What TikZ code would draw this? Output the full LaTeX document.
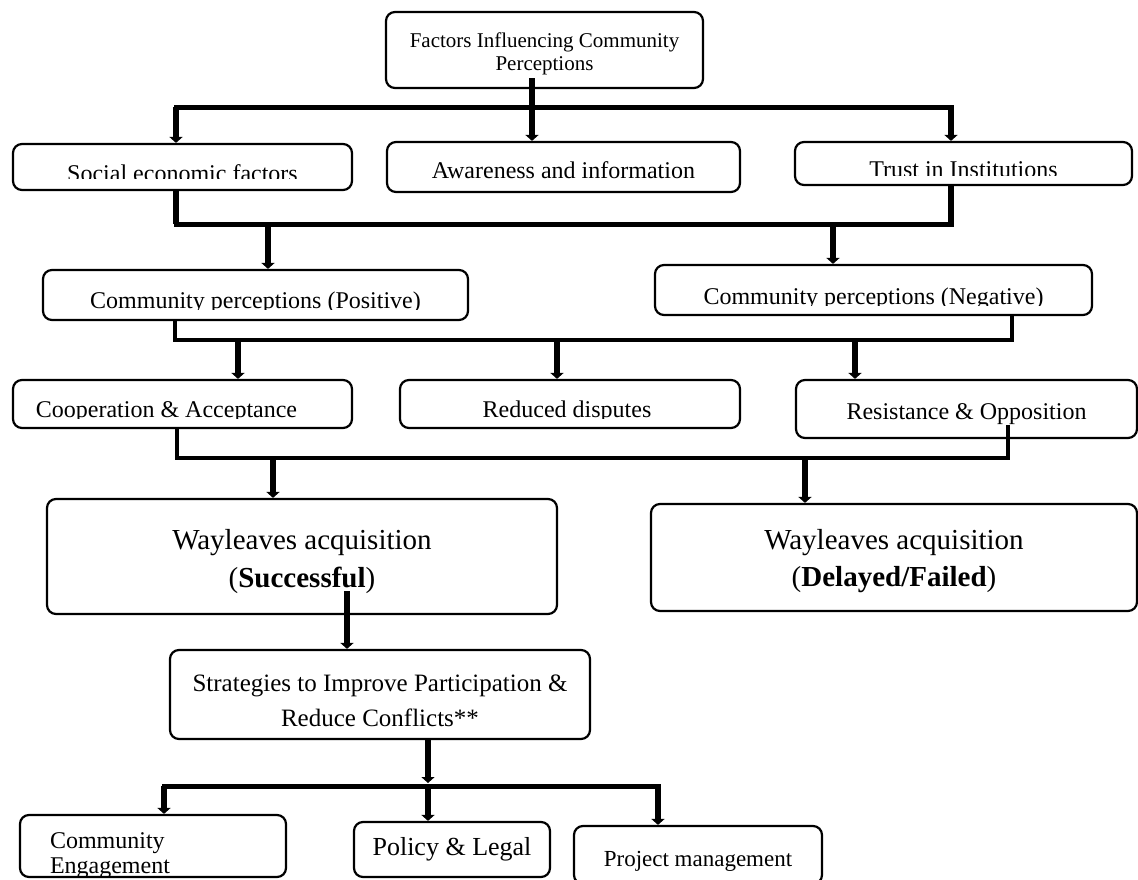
\documentclass[tikz,border=0pt]{standalone}
\usepackage{fontspec}
\setmainfont{Liberation Serif}
\usetikzlibrary{arrows.meta,positioning}

\begin{document}
\begin{tikzpicture}[
  x=1pt,y=-1pt,
  font=\fontsize{24}{28}\selectfont,
  box/.style={rectangle,rounded corners=9pt,draw,line width=2.2pt,align=center,inner sep=2pt},
  thk/.style={line width=6pt},
  link/.style={line width=5pt,line cap=rect},
  thin/.style={line width=3.5pt,line cap=rect},
  cut/.style n args={4}{path picture={
    \clip (path picture bounding box.north west) rectangle ([yshift=#3]path picture bounding box.east);
    \node[anchor=base,inner sep=0pt] at ([xshift=#1,yshift=#2]path picture bounding box.center) {#4};}},
  >={Triangle[width=13pt,length=6pt]}
]
\useasboundingbox (0,0) rectangle (1138,879);
\node[box,minimum width=317,minimum height=76,font=\fontsize{21}{23}\selectfont] (fac) at (544.5,50) {\rule{0pt}{22pt}Factors Influencing Community\\Perceptions};
\node[box,minimum width=339,minimum height=46,cut={0pt}{-14pt}{-11.5pt}{Social economic factors}] (soc) at (182.5,167) {};
\node[box,minimum width=353,minimum height=50] (aw) at (563.5,167) {\rule{0pt}{22.5pt}Awareness and information};
\node[box,minimum width=337,minimum height=43,cut={0pt}{-14pt}{-11.5pt}{Trust in Institutions}] (tru) at (963.5,163.5) {};
\node[box,minimum width=425,minimum height=50,cut={0pt}{-13pt}{-14pt}{Community perceptions (Positive)}] (pos) at (255.5,295) {};
\node[box,minimum width=437,minimum height=50,cut={0pt}{-14pt}{-15pt}{Community perceptions (Negative)}] (neg) at (873.5,290) {};
\node[box,minimum width=339,minimum height=48,cut={-16pt}{-13pt}{-14pt}{Cooperation \& Acceptance}] (coop) at (182.5,404) {};
\node[box,minimum width=340,minimum height=48,cut={-3pt}{-13pt}{-14pt}{Reduced disputes}] (red) at (570,404) {};
\node[box,minimum width=341,minimum height=58] (res) at (966.5,409) {\rule{0pt}{26pt}Resistance \& Opposition};
\node[box,minimum width=510,minimum height=115,font=\fontsize{29}{38}\selectfont] (ws) at (302,556.5) {\rule{0pt}{30pt}Wayleaves acquisition\\(\textbf{Successful})};
\node[box,minimum width=486,minimum height=107,font=\fontsize{29}{37}\selectfont] (wf) at (894,557.5) {\rule{0pt}{28pt}Wayleaves acquisition\\(\textbf{Delayed/Failed})};
\node[box,minimum width=420,minimum height=89,font=\fontsize{25}{35}\selectfont] (strat) at (380,694.5) {\rule{0pt}{29pt}Strategies to Improve Participation \&\\Reduce Conflicts**};
\node[box,minimum width=266,minimum height=62,cut={-43pt}{-27pt}{-29.5pt}{\begin{tabular}[b]{@{}l@{}}Community\\[-3pt]Engagement\end{tabular}}] (ce) at (153,846) {};
\node[box,minimum width=196,minimum height=55,font=\fontsize{26}{30}\selectfont] (pol) at (452,849.5) {Policy \& Legal};
\node[box,minimum width=248,minimum height=58,font=\fontsize{23}{27}\selectfont] (proj) at (698,855) {\rule{0pt}{27pt}Project management};

\coordinate (f0) at ([shift={(-12.5,-11)}]fac.south);
\coordinate (b1l) at (176,107);
\coordinate (b1r) at (951,107);
\draw[link] (b1l) -- (b1r);
\draw[->,thk] (f0) -- (f0 |- aw.north);
\draw[->,thk] (b1l) -- (b1l |- soc.north);
\draw[->,thk] (b1r) -- (b1r |- tru.north);

\coordinate (b2l) at (176,224);
\coordinate (b2r) at (951,224);
\coordinate (d2a) at (268,224);
\coordinate (d2b) at (833,224);
\draw[thk] (soc.south -| b2l) -- (b2l);
\draw[thk] (tru.south -| b2r) -- (b2r);
\draw[link] (b2l) -- (b2r);
\draw[->,thk] (d2a) -- (d2a |- pos.north);
\draw[->,thk] (d2b) -- (d2b |- neg.north);

\coordinate (b3l) at (175,340);
\coordinate (b3r) at (1012,340);
\coordinate (d3a) at (238,340);
\coordinate (d3b) at (557,340);
\coordinate (d3c) at (855,340);
\draw[thin] (pos.south -| b3l) -- (b3l) -- (b3r) -- (neg.south -| b3r);
\draw[->,thk] (d3a) -- (d3a |- coop.north);
\draw[->,thk] (d3b) -- (d3b |- red.north);
\draw[->,thk] (d3c) -- (d3c |- res.north);

\coordinate (r0) at ([shift={(41.5,-12)}]res.south);
\coordinate (b4l) at (177,458);
\coordinate (b4r) at (1008,458);
\coordinate (d4a) at (273,458);
\coordinate (d4b) at (805,458);
\draw[thin] (coop.south -| b4l) -- (b4l) -- (b4r) -- (r0);
\draw[->,thk] (d4a) -- (d4a |- ws.north);
\draw[->,thk] (d4b) -- (d4b |- wf.north);

\coordinate (w0) at ([shift={(45,-24)}]ws.south);
\draw[->,thk] (w0) -- (w0 |- strat.north);

\coordinate (b5l) at (164,786);
\coordinate (b5m) at (428,786);
\coordinate (b5r) at (658,786);
\draw[->,thk] (strat.south -| b5m) -- ([yshift=3pt]b5m);
\draw[link] (b5l) -- (b5r);
\draw[->,thk] (b5l) -- (b5l |- ce.north);
\draw[->,thk] (b5m) -- (b5m |- pol.north);
\draw[->,thk] (b5r) -- (b5r |- proj.north);
\end{tikzpicture}
\end{document}
